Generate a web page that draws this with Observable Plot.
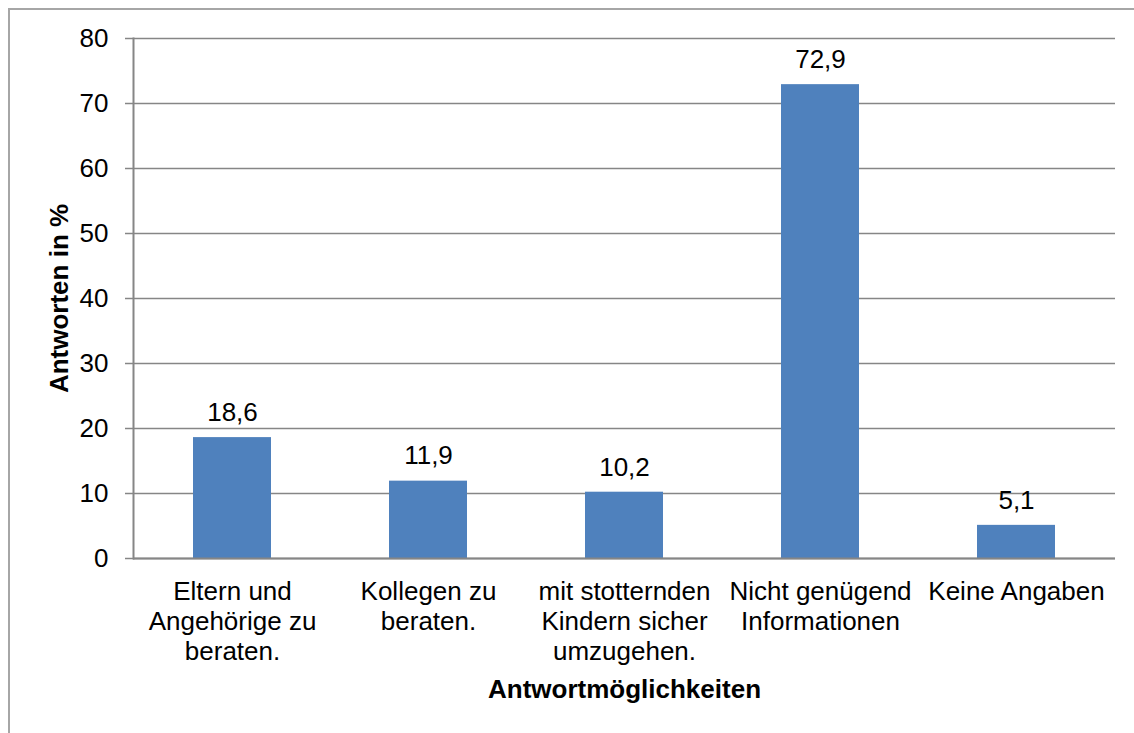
<!DOCTYPE html>
<html>
<head>
<meta charset="utf-8">
<script src="https://cdn.jsdelivr.net/npm/d3@7"></script>
<script src="https://cdn.jsdelivr.net/npm/@observablehq/plot@0.6"></script>
<style>
  html, body { margin: 0; padding: 0; background: #fff; overflow: hidden; }
  #wrap { position: relative; width: 1134px; height: 733px; }
  #border { position: absolute; left: 8px; top: 8px; right: -20px; bottom: -20px;
            border-left: 2px solid #a6a6a6; border-top: 2px solid #a6a6a6; pointer-events: none; }
  #chart { position: absolute; left: 0; top: 0; }
</style>
</head>
<body>
<div id="wrap"><div id="border"></div><div id="chart"></div></div>
<script>
const categories = [
  "Eltern und\nAngehörige zu\nberaten.",
  "Kollegen zu\nberaten.",
  "mit stotternden\nKindern sicher\numzugehen.",
  "Nicht genügend\nInformationen",
  "Keine Angaben"
];
const values = [18.6, 11.9, 10.2, 72.9, 5.1];
const yTicks = [0, 10, 20, 30, 40, 50, 60, 70, 80];
const yTitle = "Antworten in %";
const xTitle = "Antwortmöglichkeiten";

const data = categories.map((c, i) => ({category: c, value: values[i]}));
const fmt = v => v.toFixed(1).replace(".", ",");
const grid = "#868686";

const chart = Plot.plot({
  width: 1134,
  height: 733,
  marginLeft: 133,
  marginRight: 19,
  marginTop: 38,
  marginBottom: 175,
  style: {fontFamily: "'Liberation Sans', Arial, sans-serif", fontSize: "26px", color: "#000", background: "transparent", overflow: "visible"},
  x: {domain: categories, paddingInner: 0.6, paddingOuter: 0.3, label: null},
  y: {domain: [0, 80], ticks: yTicks, label: null},
  marks: [
    Plot.gridY(yTicks, {stroke: grid, strokeOpacity: 1, strokeWidth: 1.5}),
    Plot.barY(data, {x: "category", y: "value", fill: "#4F81BD"}),
    Plot.ruleY([0], {stroke: grid, strokeWidth: 2}),
    Plot.frame({anchor: "left", stroke: grid, strokeWidth: 2}),
    Plot.axisY(yTicks, {tickSize: 8, tickPadding: 17, stroke: grid, strokeWidth: 1.5, fontSize: 26, label: null, tickFormat: d => String(d)}),
    Plot.axisX({tickSize: 0, tickPadding: 20, fontSize: 26, lineHeight: 1.16, label: null}),
    Plot.text(data, {x: "category", y: "value", text: d => fmt(d.value), dy: -25, fontSize: 26, fill: "#000"}),
    Plot.text([xTitle], {frameAnchor: "bottom", lineAnchor: "middle", dy: 131, fontSize: 26, fontWeight: "bold", fill: "#000"}),
    Plot.text([yTitle], {frameAnchor: "left", textAnchor: "middle", lineAnchor: "middle", dx: -74, rotate: -90, fontSize: 26, fontWeight: "bold", fill: "#000"})
  ]
});
document.getElementById("chart").appendChild(chart);
</script>
</body>
</html>
